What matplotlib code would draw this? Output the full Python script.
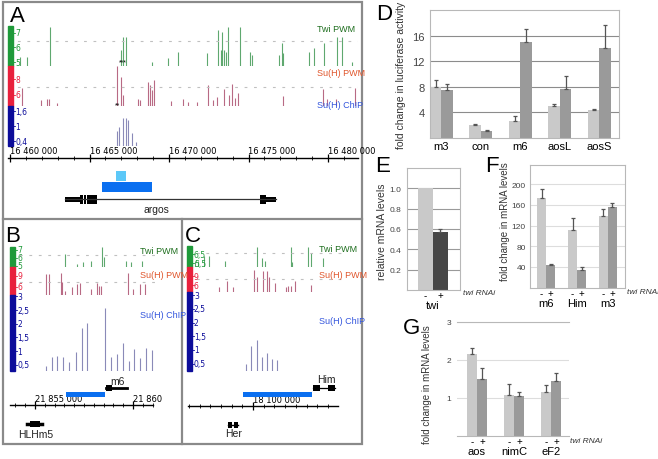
import numpy as np
import matplotlib
matplotlib.use('Agg')
import matplotlib.pyplot as plt
from matplotlib.patches import Rectangle
from matplotlib.ticker import MultipleLocator
from matplotlib.transforms import blended_transform_factory

W, H = 658, 460
plt.rcParams['font.family'] = ['Liberation Sans', 'DejaVu Sans']

# ---------------- A: argos locus ----------------
a_start = 16460000
a_twi_pos = [629, 1069, 2516, 6981, 7107, 7295, 8931, 9937, 10566, 12390, 13082, 13270,
             13333, 13459, 13585, 13711, 14465, 15094, 15220, 16918, 17107, 17170, 18805,
             19119, 19748, 20566, 20881, 21509]
a_twi_val = [5.34, 5.34, 7.35, 5.83, 6.72, 6.72, 5.0, 5.28, 5.69, 5.62, 7.2, 5.83,
             7.07, 5.83, 5.69, 7.41, 7.41, 5.69, 5.48, 5.48, 6.31, 5.62, 5.69,
             5.96, 6.31, 6.72, 6.72, 5.0]
a_suh_pos = [755, 1950, 2327, 2453, 2956, 6729, 6981, 7107, 8050, 8176, 8679, 8805, 8930,
             9056, 10125, 10880, 11194, 11760, 12452, 12767, 13018, 13458, 13773, 13962,
             14150, 14339, 17169, 19685, 19937, 20503, 21697]
a_suh_val = [6.93, 5.33, 5.47, 5.47, 4.93, 9.73, 8.27, 6.0, 5.47, 5.33, 7.73, 7.33, 6.67,
             7.87, 5.2, 5.47, 5.07, 5.07, 7.33, 5.33, 5.73, 6.8, 6.0, 7.47,
             5.6, 6.27, 5.87, 6.8, 5.47, 5.47, 6.93]
a_chip_pos = [6729, 6855, 7107, 7295, 7421, 7673, 7924]
a_chip_val = [0.8, 0.96, 1.32, 1.32, 1.24, 0.72, 0.36]
a_ticks = [16460000, 16465000, 16470000, 16475000, 16480000]
a_argos_exons = [(16463459, 16464402, 5), (16464402, 16464591, 9), (16464654, 16464780, 9),
                 (16464843, 16465471, 9), (16475722, 16476100, 9), (16476100, 16476729, 5)]
a_argos_span = (16463459, 16476729)
a_frag = (16465786, 16468930)
a_frag_small = (16466666, 16467295)

# ---------------- B: E(spl) m6 locus ----------------
b_start = 21855000
b_twi_pos = [1531, 2143, 2449, 2857, 3418, 3520, 4643, 4898, 5459]
b_twi_val = [6.5, 5.25, 5.5, 5.6, 7.375, 6.1, 5.6, 5.5, 5.6]
b_suh_pos = [561, 714, 1327, 1378, 1531, 1888, 2143, 2296, 2857, 3163, 3265, 3367,
             4745, 5000, 5357, 5612]
b_suh_val = [9.54, 9.54, 9.82, 7.37, 4.91, 6.0, 6.82, 7.09, 5.46, 7.09, 6.28, 6.28,
             9.82, 5.46, 6.82, 6.82]
b_chip_pos = [561, 867, 1122, 1429, 1735, 2092, 2398, 2653, 3571, 3878, 4184, 4490,
              4796, 5051, 5357, 5663, 5969]
b_chip_val = [0.45, 0.78, 0.82, 0.78, 0.6, 0.96, 1.84, 2.03, 2.57, 0.78, 0.89, 1.29,
              0.63, 1.07, 0.74, 1.11, 1.04]
b_ticks = [21855000, 21860000]
b_tick_labels = ['21 855 000', '21 860']
b_frag = (21856582, 21858571)
b_m6 = (21858622, 21859694)
b_hlhm5 = (21854592, 21855357)

# ---------------- C: Him locus ----------------
c_start = 18100000
c_twi_pos = [-2709, -2569, -2288, -2055, -1308, 187, 420, 560, 1775, 1821, 2569, 2709, 3269]
c_twi_val = [5.72, 5.72, 6.28, 6.28, 5.72, 7.28, 6.06, 5.72, 7.28, 5.61, 7.28, 6.61, 6.06]
c_suh_pos = [-1588, -1214, -934, 47, 187, 467, 654, 747, 1027, 1541, 1635, 1775, 1961, 2709]
c_suh_val = [5.33, 7.33, 5.33, 11.0, 8.67, 10.67, 10.67, 8.67, 6.67, 5.33, 5.67, 5.67, 7.33, 6.0]
c_chip_pos = [-327, -93, 187, 420, 654, 887, 1121]
c_chip_val = [0.5, 1.13, 1.38, 0.75, 0.9, 0.66, 0.64]
c_ticks = [18100000]
c_tick_labels = ['18 100 000']
c_frag = (18099533, 18102755)
c_him = (18102802, 18103829)
c_her = (18098832, 18099300)

# ---------------- D: luciferase ----------------
d_cats = ['m3', 'con', 'm6', 'aosL', 'aosS']
d_minus = [8.0, 2.0, 2.7, 5.0, 4.3]
d_plus = [7.5, 1.1, 15.0, 7.6, 14.1]
d_minus_err = [1.0, 0.2, 0.7, 0.3, 0.3]
d_plus_err = [1.0, 0.2, 2.0, 2.1, 3.5]

# ---------------- E: twi knock-down ----------------
e_vals = [1.0, 0.57]
e_err = [0.0, 0.03]

# ---------------- F ----------------
f_cats = ['m6', 'Him', 'm3']
f_minus = [173, 112, 139]
f_plus = [44, 34, 156]
f_minus_err = [17, 23, 13]
f_plus_err = [2, 6, 8]

# ---------------- G ----------------
g_cats = ['aos', 'nimC', 'eF2']
g_minus = [2.15, 1.07, 1.15]
g_plus = [1.5, 1.05, 1.45]
g_minus_err = [0.17, 0.3, 0.18]
g_plus_err = [0.3, 0.12, 0.2]

GREEN, RED, BLUE = '#1f9a3a', '#e8203c', '#0c0c9a'
GREEN_BAR, RED_BAR, BLUE_BAR = '#5fa86f', '#b86a84', '#8a8ab8'
LIGHT, DARK = '#c9c9c9', '#9a9a9a'

fig = plt.figure(figsize=(W / 100, H / 100), dpi=100)


def rect(x0, y0, x1, y1):
    return [x0 / W, 1 - y1 / H, (x1 - x0) / W, (y1 - y0) / H]


def ftext(x, y, s, **kw):
    return fig.text(x / W, 1 - y / H, s, **kw)


def track(r, xlim, ylim, pos, val, col, bar_col, ticks, dash=None):
    ax = fig.add_axes(rect(*r))
    ax.set_xlim(xlim)
    ax.set_ylim(ylim)
    ax.axis('off')
    ax.vlines(pos, ylim[0], val, color=col, lw=0.8)
    if dash is not None:
        ax.axhline(dash, color='#c0c0c0', ls=(0, (2.5, 6)), lw=0.8)
    bw = 5.0 / (r[2] - r[0])
    ax.add_patch(Rectangle((0, 0), bw, 1, transform=ax.transAxes, color=bar_col,
                           clip_on=False, zorder=3))
    tr = blended_transform_factory(ax.transAxes, ax.transData)
    for t, lab in ticks:
        ax.plot([bw, bw + 1.5 / (r[2] - r[0])], [t, t], transform=tr, color=bar_col, lw=0.6)
        ax.text(bw + 2.0 / (r[2] - r[0]), t, lab, transform=tr, fontsize=5.5,
                color=bar_col, va='center', ha='left', family=['DejaVu Sans'])
    return ax


def scale(r, xlim, ticks, labels, minor):
    ax = fig.add_axes(rect(*r))
    ax.set_xlim(xlim)
    ax.set_ylim(0, 1)
    for s in ['top', 'left', 'right']:
        ax.spines[s].set_visible(False)
    ax.spines['bottom'].set_linewidth(1.0)
    ax.set_yticks([])
    ax.set_xticks(ticks)
    ax.xaxis.set_minor_locator(MultipleLocator(minor))
    ax.tick_params(axis='x', which='major', direction='inout', length=6, width=0.9, labelbottom=False)
    ax.tick_params(axis='x', which='minor', direction='inout', length=3, width=0.6)
    ax.patch.set_alpha(0)
    for t, lab in zip(ticks, labels):
        ax.text(t, 0.15, lab, fontsize=6, ha='left', va='bottom',
                family=['Liberation Sans Narrow', 'DejaVu Sans'])
    return ax


def gene_axes(r, xlim):
    ax = fig.add_axes(rect(*r))
    ax.set_xlim(xlim)
    ax.set_ylim(r[3], r[1])
    ax.axis('off')
    return ax


# ---- panel A ----
a_bp = 5000 / 79.5
a_xlim = (a_start + (8 - 10) * a_bp, a_start + (358 - 10) * a_bp)
track((8, 27, 358, 67), a_xlim, (4.75, 7.45), [a_start + p for p in a_twi_pos], a_twi_val,
      GREEN_BAR, GREEN, [(7, '7'), (6, '6'), (5, '5')], dash=6.45)
track((8, 67, 358, 107), a_xlim, (4.55, 9.75), [a_start + p for p in a_suh_pos], a_suh_val,
      RED_BAR, RED, [(8, '8'), (6, '6')], dash=7.07)
track((8, 107, 358, 147), a_xlim, (0.2, 1.8), [a_start + p for p in a_chip_pos], a_chip_val,
      BLUE_BAR, BLUE, [(1.6, '1,6'), (1.0, '1'), (0.4, '0,4')])
scale((8, 140, 358, 159), a_xlim, a_ticks, ['{:,}'.format(t).replace(',', ' ') for t in a_ticks], 1000)
g = gene_axes((8, 165, 358, 215), a_xlim)
g.plot(a_argos_span, [200, 200], color='#333333', lw=0.9)
for s, e, h in a_argos_exons:
    g.add_patch(Rectangle((s, 200 - h / 2), e - s, h, color='black', lw=0))
g.add_patch(Rectangle((a_frag[0], 183), a_frag[1] - a_frag[0], 10, color='#0a6ff0', lw=0))
g.add_patch(Rectangle((a_frag_small[0], 172), a_frag_small[1] - a_frag_small[0], 10, color='#5cc8f8', lw=0))
g.text(np.mean(a_argos_span) - 900, 210, 'argos', fontsize=7.5, ha='center', va='center', color='#222')
ftext(123, 63, '***', fontsize=5, ha='center', va='center')
ftext(118, 106, '**', fontsize=5, ha='center', va='center')
ftext(317, 32, 'Twi PWM', fontsize=6.5, color='#1e6e1e')
ftext(317, 76, 'Su(H) PWM', fontsize=6.5, color='#e0552b')
ftext(317, 108, 'Su(H) ChIP', fontsize=6.5, color='#3355dd')

# ---- panel B ----
b_bp = 5000 / 98.0
b_xlim = (b_start + (10 - 35) * b_bp, b_start + (158 - 35) * b_bp)
track((10, 248, 158, 268), b_xlim, (4.875, 7.375), [b_start + p for p in b_twi_pos], b_twi_val,
      GREEN_BAR, GREEN, [(7, '7'), (6, '6'), (5, '5')], dash=6.4)
track((10, 268, 158, 296), b_xlim, (3.82, 11.45), [b_start + p for p in b_suh_pos], b_suh_val,
      RED_BAR, RED, [(9, '9'), (6, '6')], dash=7.37)
track((10, 296, 158, 372), b_xlim, (0.27, 3.05), [b_start + p for p in b_chip_pos], b_chip_val,
      BLUE_BAR, BLUE, [(3, '3'), (2.5, '2,5'), (2, '2'), (1.5, '1,5'), (1, '1'), (0.5, '0,5')])
scale((10, 396, 153, 406), (b_start + (10 - 35) * b_bp, b_start + (153 - 35) * b_bp),
      b_ticks, b_tick_labels, 500)
g = gene_axes((10, 375, 158, 440), b_xlim)
g.add_patch(Rectangle((b_frag[0], 393), b_frag[1] - b_frag[0], 5, color='#0a6ff0', lw=0))
g.plot(b_m6, [389, 389], color='black', lw=2)
g.add_patch(Rectangle((b_m6[0], 386), 300, 6, color='black', lw=0))
g.plot(b_hlhm5, [425, 425], color='black', lw=2.5)
g.add_patch(Rectangle((b_hlhm5[0] + 150, 422), 500, 6, color='black', lw=0))
ftext(117, 382, 'm6', fontsize=7.5, ha='center', va='center', color='#222')
ftext(36, 435, 'HLHm5', fontsize=7.5, ha='center', va='center', color='#222')
ftext(140, 252, 'Twi PWM', fontsize=6.5, color='#1e6e1e', va='center')
ftext(140, 275, 'Su(H) PWM', fontsize=6.5, color='#e0552b', va='center')
ftext(140, 315, 'Su(H) ChIP', fontsize=6.5, color='#3355dd', va='center')

# ---- panel C ----
c_bp = 5000 / 107.0
c_xlim = (c_start + (187 - 253) * c_bp, c_start + (345 - 253) * c_bp)
track((187, 247, 345, 268), c_xlim, (5.06, 7.39), [c_start + p for p in c_twi_pos], c_twi_val,
      GREEN_BAR, GREEN, [(6.5, '6,5'), (5.5, '5,5')], dash=6.6)
track((187, 268, 345, 293), c_xlim, (3.67, 12.0), [c_start + p for p in c_suh_pos], c_suh_val,
      RED_BAR, RED, [(9, '9'), (6, '6')], dash=8.0)
track((187, 293, 345, 372), c_xlim, (0.23, 3.12), [c_start + p for p in c_chip_pos], c_chip_val,
      BLUE_BAR, BLUE, [(3, '3'), (2.5, '2,5'), (2, '2'), (1.5, '1,5'), (1, '1'), (0.5, '0,5')])
scale((188, 397, 338, 407), (c_start + (188 - 253) * c_bp, c_start + (338 - 253) * c_bp),
      c_ticks, c_tick_labels, 500)
g = gene_axes((187, 375, 345, 440), c_xlim)
g.add_patch(Rectangle((c_frag[0], 393), c_frag[1] - c_frag[0], 5, color='#0a6ff0', lw=0))
g.plot(c_him, [389, 389], color='black', lw=0.9)
g.add_patch(Rectangle((c_him[0], 386), 330, 6, color='black', lw=0))
g.add_patch(Rectangle((c_him[1] - 330, 386), 330, 6, color='black', lw=0))
g.add_patch(Rectangle((c_her[0], 423), 190, 6, color='black', lw=0))
g.add_patch(Rectangle((c_her[1] - 190, 423), 190, 6, color='black', lw=0))
g.plot(c_her, [426, 426], color='black', lw=1)
ftext(326, 380, 'Him', fontsize=7.5, ha='center', va='center', color='#222')
ftext(234, 434, 'Her', fontsize=7.5, ha='center', va='center', color='#222')
ftext(319, 250, 'Twi PWM', fontsize=6.5, color='#1e6e1e', va='center')
ftext(319, 275, 'Su(H) PWM', fontsize=6.5, color='#e0552b', va='center')
ftext(319, 322, 'Su(H) ChIP', fontsize=6.5, color='#3355dd', va='center')

# frame around A-C
fr = fig.add_axes([0, 0, 1, 1], zorder=-5)
fr.set_xlim(0, W)
fr.set_ylim(H, 0)
fr.axis('off')
fr.add_patch(Rectangle((3, 3), 359, 442, fill=False, ec='#8a8a8a', lw=1.6))
fr.plot([3, 362], [220, 220], color='#8a8a8a', lw=1.6)
fr.plot([182, 182], [220, 445], color='#8a8a8a', lw=1.6)

for lab, x, y in [('A', 17, 16), ('B', 13, 236), ('C', 193, 237),
                  ('D', 384, 15), ('E', 383, 167), ('F', 492, 167), ('G', 412, 329)]:
    ftext(x, y, lab, fontsize=16, ha='center', va='center')


# ---- bar charts ----
def style(ax, grid_col):
    for s in ax.spines.values():
        s.set_color('#b8b8b8')
        s.set_linewidth(0.8)
    ax.yaxis.grid(True, color=grid_col, lw=0.8)
    ax.set_axisbelow(True)
    ax.tick_params(axis='y', length=0, labelsize=6, colors='#444444', pad=4)
    ax.tick_params(axis='x', length=0, labelsize=7, pad=0)


def pairs(ax, minus, plus, merr, perr, w, dark=DARK):
    x = np.arange(len(minus))
    ax.bar(x - w / 2, minus, w, color=LIGHT)
    ax.bar(x + w / 2, plus, w, color=dark)
    ax.errorbar(x - w / 2, minus, yerr=[np.zeros(len(minus)), merr], fmt='none',
                ecolor='#555555', elinewidth=0.9, capsize=1.6, capthick=0.9)
    ax.errorbar(x + w / 2, plus, yerr=[np.zeros(len(plus)), perr], fmt='none',
                ecolor='#555555', elinewidth=0.9, capsize=1.6, capthick=0.9)
    return x


def cat_labels(ax, cats, ypx):
    # category names under the -/+ pairs, ypx = pixel offset below the axis
    h = ax.get_position().height * H
    tr = blended_transform_factory(ax.transData, ax.transAxes)
    for i, c in enumerate(cats):
        ax.text(i, -ypx / h, c, transform=tr, fontsize=8, ha='center', va='center')


# D
ax = fig.add_axes(rect(430, 11, 619, 139))
x = pairs(ax, d_minus, d_plus, d_minus_err, d_plus_err, 0.29)
ax.set_xlim(-0.29, 4.5)
ax.set_ylim(0, 20)
ax.set_yticks([4, 8, 12, 16])
ax.set_xticks(x)
ax.set_xticklabels(d_cats)
style(ax, '#8c8c8c')
ax.tick_params(axis='y', labelsize=8)
ax.tick_params(axis='x', labelsize=8, pad=2)
ftext(401, 75, 'fold change in luciferase activity', rotation=90, fontsize=7.5,
      ha='center', va='center', color='#333')

# E
ax = fig.add_axes(rect(407, 169, 460, 291))
ax.bar([0, 1], e_vals, 1.0, color=[LIGHT, '#474747'])
ax.errorbar([1], [e_vals[1]], yerr=[[0], [e_err[1]]], fmt='none', ecolor='#555555',
            elinewidth=0.9, capsize=1.6, capthick=0.9)
ax.set_xlim(-1.23, 2.3)
ax.set_ylim(0, 1.2)
ax.set_yticks([0.2, 0.4, 0.6, 0.8, 1.0])
ax.set_yticklabels(['0.2', '0.4', '0.6', '0.8', '1.0'])
ax.set_xticks([0, 1])
ax.set_xticklabels(['-', '+'])
style(ax, '#9a9a9a')
ax.text(0.5, -15.0 / 122, 'twi', transform=blended_transform_factory(ax.transData, ax.transAxes),
        fontsize=8, ha='center', va='center')
ftext(463, 294, 'twi RNAi', fontsize=6, style='italic', color='#333', va='center')
ftext(382, 232, 'relative mRNA levels', rotation=90, fontsize=7.5, ha='center', va='center', color='#333')

# F
ax = fig.add_axes(rect(530, 166, 625, 288.7))
x = pairs(ax, f_minus, f_plus, f_minus_err, f_plus_err, 0.29)
ax.set_xlim(-0.52, 2.55)
ax.set_ylim(0, 237)
ax.set_yticks([40, 80, 120, 160, 200])
ax.set_xticks(np.concatenate([x - 0.145, x + 0.145]))
ax.set_xticklabels(['-'] * 3 + ['+'] * 3)
style(ax, '#dddddd')
ax.tick_params(axis='y', pad=3)
cat_labels(ax, f_cats, 15)
ftext(627, 293, 'twi RNAi', fontsize=6, style='italic', color='#333', va='center')
ftext(505, 222, 'fold change in mRNA levels', rotation=90, fontsize=7, ha='center', va='center', color='#333')

# G
ax = fig.add_axes(rect(457, 323, 569, 437))
x = pairs(ax, g_minus, g_plus, g_minus_err, g_plus_err, 0.28)
ax.set_xlim(-0.54, 2.49)
ax.set_ylim(0, 3)
ax.set_yticks([1, 2, 3])
ax.set_xticks(np.concatenate([x - 0.14, x + 0.14]))
ax.set_xticklabels(['-'] * 3 + ['+'] * 3)
style(ax, '#dddddd')
ax.spines['left'].set_visible(False)
ax.spines['right'].set_visible(False)
cat_labels(ax, g_cats, 15)
ftext(570, 442, 'twi RNAi', fontsize=6, style='italic', color='#333', va='center')
ftext(427, 385, 'fold change in mRNA levels', rotation=90, fontsize=7, ha='center', va='center', color='#333')

fig.savefig('out.png', dpi=100)
